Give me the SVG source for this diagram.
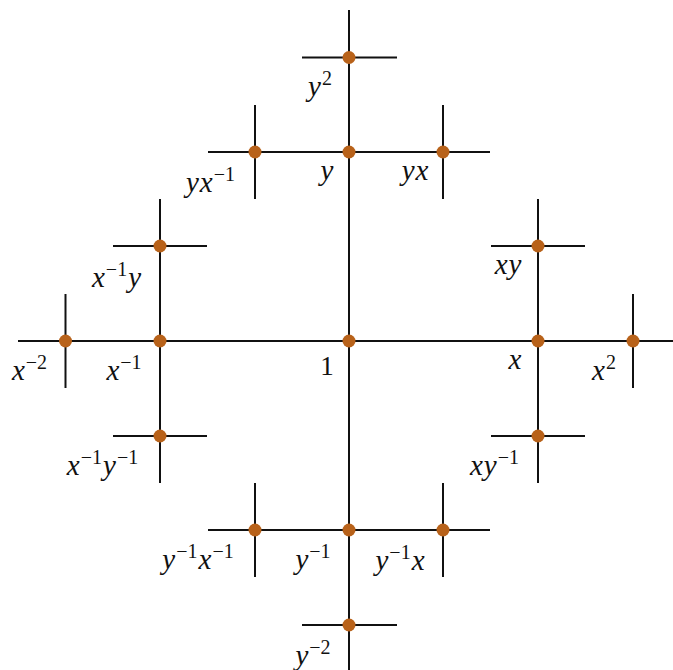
<svg xmlns="http://www.w3.org/2000/svg" width="673" height="670" viewBox="0 0 673 670">
<style>
.e{stroke:#111;stroke-width:2;fill:none}
.d{fill:#b8621a}
.lab{font-style:italic;font-size:29px;fill:#111;text-anchor:middle}
.sup{font-style:normal;font-size:20px}
.num{font-size:27px;fill:#111;text-anchor:middle}
</style>
<rect width="673" height="670" fill="#fff"/>
<g id="connectors">
<line class="e" x1="18" y1="341" x2="673" y2="341"/>
<line class="e" x1="349" y1="10" x2="349" y2="670"/>
<line class="e" x1="208" y1="152" x2="490" y2="152"/>
<line class="e" x1="208" y1="530" x2="490" y2="530"/>
<line class="e" x1="302" y1="57.5" x2="397" y2="57.5"/>
<line class="e" x1="302" y1="625" x2="397" y2="625"/>
<line class="e" x1="113" y1="246" x2="207" y2="246"/>
<line class="e" x1="113" y1="436" x2="207" y2="436"/>
<line class="e" x1="491" y1="246" x2="585" y2="246"/>
<line class="e" x1="491" y1="436" x2="585" y2="436"/>
<line class="e" x1="160" y1="199" x2="160" y2="483"/>
<line class="e" x1="538" y1="199" x2="538" y2="483"/>
<line class="e" x1="65.5" y1="294" x2="65.5" y2="388"/>
<line class="e" x1="633" y1="294" x2="633" y2="388"/>
<line class="e" x1="255" y1="105" x2="255" y2="199"/>
<line class="e" x1="443" y1="105" x2="443" y2="199"/>
<line class="e" x1="255" y1="483" x2="255" y2="577"/>
<line class="e" x1="443" y1="483" x2="443" y2="577"/>
</g>
<g font-family="Liberation Serif, serif">
<g id="n_1"><circle class="d" cx="349" cy="341" r="6.5"/><text class="num" font-family="Liberation Serif" x="327" y="375">1</text></g>
<g id="n_x"><circle class="d" cx="538" cy="341" r="6.5"/><text class="lab" font-family="Liberation Serif" x="515" y="369">x</text></g>
<g id="n_x2"><circle class="d" cx="633" cy="341" r="6.5"/><text class="lab" font-family="Liberation Serif" x="604" y="380">x<tspan class="sup" dx="1" dy="-11">2</tspan></text></g>
<g id="n_xinv"><circle class="d" cx="160" cy="341" r="6.5"/><text class="lab" font-family="Liberation Serif" x="124" y="380">x<tspan class="sup" dx="1" dy="-11">−1</tspan></text></g>
<g id="n_xinv2"><circle class="d" cx="65.5" cy="341" r="6.5"/><text class="lab" font-family="Liberation Serif" x="29.5" y="380">x<tspan class="sup" dx="1" dy="-11">−2</tspan></text></g>
<g id="n_y"><circle class="d" cx="349" cy="152" r="6.5"/><text class="lab" font-family="Liberation Serif" x="327" y="180">y</text></g>
<g id="n_y2"><circle class="d" cx="349" cy="57.5" r="6.5"/><text class="lab" font-family="Liberation Serif" x="320" y="96">y<tspan class="sup" dx="1" dy="-11">2</tspan></text></g>
<g id="n_yx"><circle class="d" cx="443" cy="152" r="6.5"/><text class="lab" font-family="Liberation Serif" x="415" y="180">y<tspan dx="1">x</tspan></text></g>
<g id="n_yxinv"><circle class="d" cx="255" cy="152" r="6.5"/><text class="lab" font-family="Liberation Serif" x="210.5" y="192">y<tspan dx="1">x</tspan><tspan class="sup" dx="1" dy="-11">−1</tspan></text></g>
<g id="n_xinvy"><circle class="d" cx="160" cy="246" r="6.5"/><text class="lab" font-family="Liberation Serif" x="116.5" y="287">x<tspan class="sup" dx="1" dy="-11">−1</tspan><tspan dx="1" dy="11">y</tspan></text></g>
<g id="n_xy"><circle class="d" cx="538" cy="246" r="6.5"/><text class="lab" font-family="Liberation Serif" x="508" y="274">x<tspan dx="1">y</tspan></text></g>
<g id="n_xinvyinv"><circle class="d" cx="160" cy="436" r="6.5"/><text class="lab" font-family="Liberation Serif" x="102.5" y="475">x<tspan class="sup" dx="1" dy="-11">−1</tspan><tspan dx="1" dy="11">y</tspan><tspan class="sup" dx="1" dy="-11">−1</tspan></text></g>
<g id="n_xyinv"><circle class="d" cx="538" cy="436" r="6.5"/><text class="lab" font-family="Liberation Serif" x="494.5" y="475">x<tspan dx="1">y</tspan><tspan class="sup" dx="1" dy="-11">−1</tspan></text></g>
<g id="n_yinv"><circle class="d" cx="349" cy="530" r="6.5"/><text class="lab" font-family="Liberation Serif" x="313" y="569">y<tspan class="sup" dx="1" dy="-11">−1</tspan></text></g>
<g id="n_yinv2"><circle class="d" cx="349" cy="625" r="6.5"/><text class="lab" font-family="Liberation Serif" x="313" y="665">y<tspan class="sup" dx="1" dy="-11">−2</tspan></text></g>
<g id="n_yinvxinv"><circle class="d" cx="255" cy="530" r="6.5"/><text class="lab" font-family="Liberation Serif" x="198" y="569">y<tspan class="sup" dx="1" dy="-11">−1</tspan><tspan dx="1" dy="11">x</tspan><tspan class="sup" dx="1" dy="-11">−1</tspan></text></g>
<g id="n_yinvx"><circle class="d" cx="443" cy="530" r="6.5"/><text class="lab" font-family="Liberation Serif" x="400" y="570">y<tspan class="sup" dx="1" dy="-11">−1</tspan><tspan dx="1" dy="11">x</tspan></text></g>
</g>
</svg>
